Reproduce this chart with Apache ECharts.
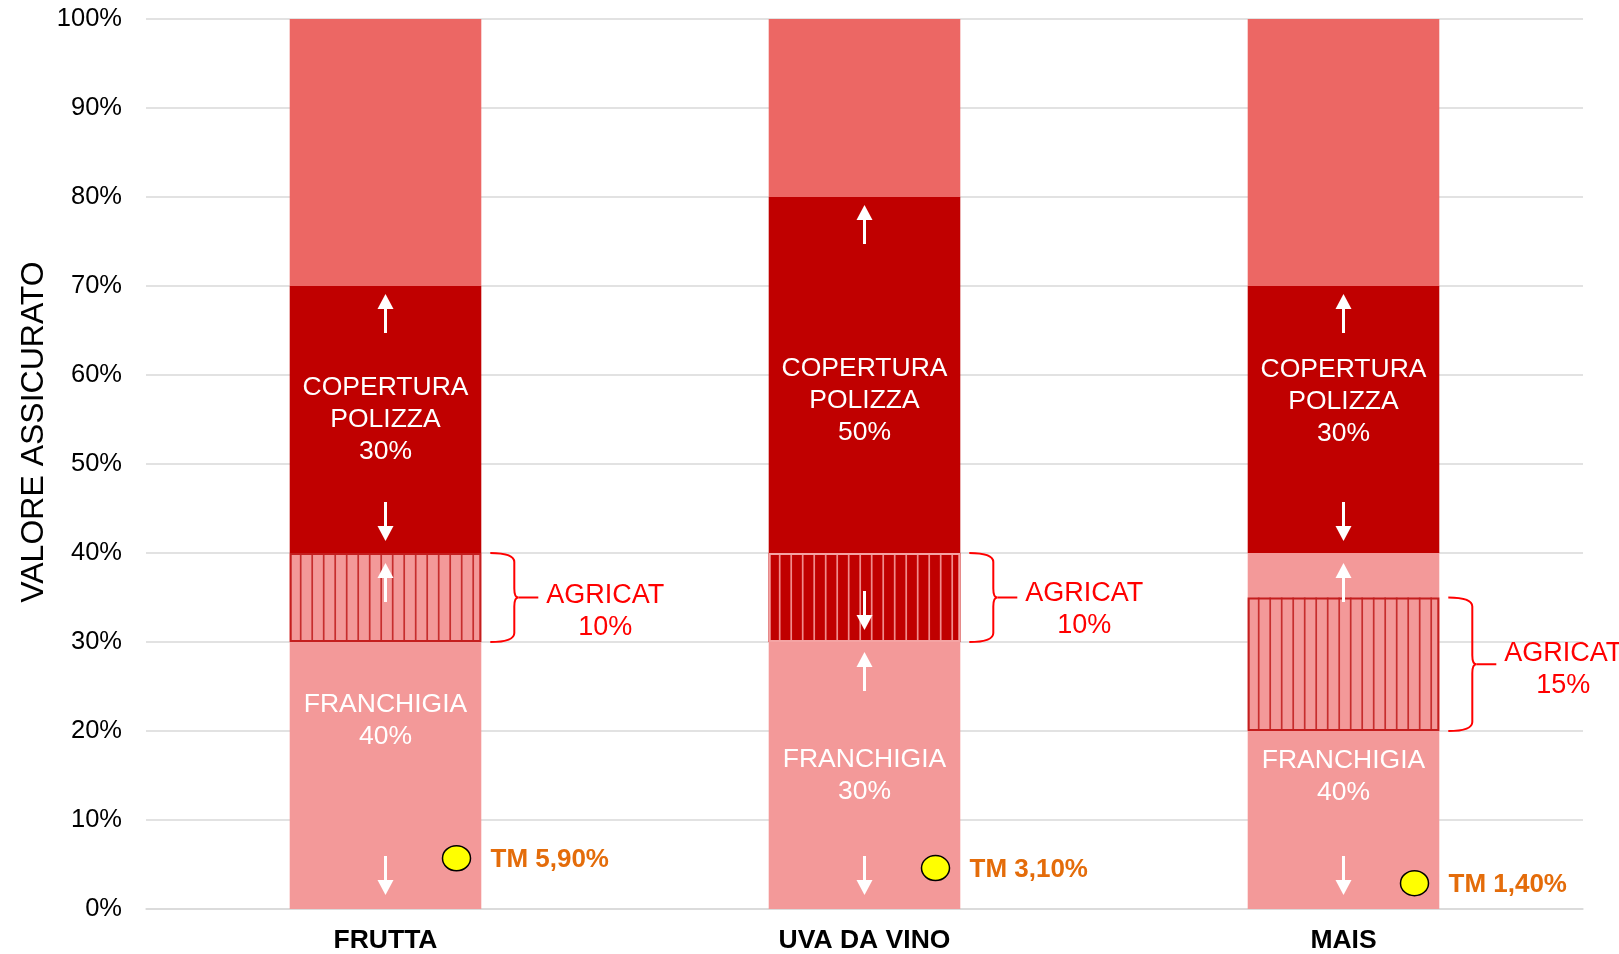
<!DOCTYPE html>
<html>
<head>
<meta charset="utf-8">
<script src="https://cdn.jsdelivr.net/npm/echarts@6/dist/echarts.min.js"></script>
<style>
html,body{margin:0;padding:0;background:#ffffff;}
#chart{width:1619px;height:954px;}
</style>
</head>
<body>
<div id="chart"></div>
<script>
// ---- data ----
const categories = ['FRUTTA', 'UVA DA VINO', 'MAIS'];
const franchigia = [40, 30, 40];
const copertura = [30, 50, 30];
const agricatFrom = [30, 30, 20];
const agricat = [10, 10, 15];
const tmText = ['5,90%', '3,10%', '1,40%'];
const tmMarker = [5.7, 4.6, 2.9];
const yTickLabels = ['0%', '10%', '20%', '30%', '40%', '50%', '60%', '70%', '80%', '90%', '100%'];

// ---- styles / layout constants ----
const FONT = 'Liberation Sans, Arial, sans-serif';
const PINK = '#F39999';
const DARK = '#C00000';
const TOP = '#EC6764';
const franLabelDy = [-10, 0, 46];
const copLabelDy = [0, -19, -18];
const agriLabelDy = [14, 12, 5];

const resto = franchigia.map((v, i) => 100 - v - copertura[i]);

const chart = echarts.init(document.getElementById('chart'), null, { renderer: 'canvas' });

function arrow(x, tip, dir) {
  // dir: -1 up (tip above), +1 down (tip below)
  const len = 39, hl = 15, hw = 8;
  const end = tip - dir * len;
  const base = tip - dir * hl;
  return [
    { type: 'line', shape: { x1: x, y1: end, x2: x, y2: base }, style: { stroke: '#ffffff', lineWidth: 3 } },
    { type: 'polygon', shape: { points: [[x, tip], [x - hw, base], [x + hw, base]] }, style: { fill: '#ffffff' } }
  ];
}

const option = {
  animation: false,
  textStyle: { fontFamily: FONT },
  grid: { left: 146, right: 36, top: 19, bottom: 43 },
  graphic: [{
    type: 'text',
    x: 34, y: 432,
    rotation: Math.PI / 2,
    style: {
      text: 'VALORE ASSICURATO',
      fontSize: 32,
      fontFamily: FONT,
      fill: '#000000',
      align: 'center',
      verticalAlign: 'middle'
    }
  }],
  xAxis: {
    type: 'category',
    data: categories,
    axisLine: { show: true, lineStyle: { color: '#D9D9D9', width: 1.5 } },
    axisTick: { show: false },
    axisLabel: { color: '#000000', fontSize: 26.5, fontWeight: 'bold', margin: 18, fontFamily: FONT }
  },
  yAxis: {
    type: 'value',
    min: 0, max: 100, interval: 10,
    axisLine: { show: false },
    axisTick: { show: false },
    splitLine: { lineStyle: { color: '#D9D9D9', width: 1.5 } },
    axisLabel: {
      color: '#000000', fontSize: 25.5, margin: 24, fontFamily: FONT,
      formatter: v => yTickLabels[Math.round(v / 10)]
    }
  },
  series: [
    {
      name: 'Franchigia', type: 'bar', stack: 'v', barWidth: '40%', z: 2,
      itemStyle: { color: PINK },
      label: {
        show: true, position: 'inside', color: '#ffffff', fontSize: 26.5, lineHeight: 32, fontFamily: FONT,
        formatter: p => 'FRANCHIGIA\n' + p.value + '%'
      },
      data: franchigia.map((v, i) => ({ value: v, label: { offset: [0, franLabelDy[i]] } }))
    },
    {
      name: 'Copertura', type: 'bar', stack: 'v', barWidth: '40%', z: 2,
      itemStyle: { color: DARK },
      label: {
        show: true, position: 'inside', color: '#ffffff', fontSize: 26.5, lineHeight: 32, fontFamily: FONT,
        formatter: p => 'COPERTURA\nPOLIZZA\n' + p.value + '%'
      },
      data: copertura.map((v, i) => ({ value: v, label: { offset: [0, copLabelDy[i]] } }))
    },
    {
      name: 'Resto', type: 'bar', stack: 'v', barWidth: '40%', z: 2,
      itemStyle: { color: TOP },
      data: resto
    },
    {
      name: 'Agricat', type: 'custom', z: 3,
      encode: { x: 0, y: [1, 2] },
      data: agricat.map((v, i) => [i, agricatFrom[i], agricatFrom[i] + v]),
      renderItem: (params, api) => {
        const i = api.value(0);
        const lo = api.value(1), hi = api.value(2);
        const b = api.coord([i, lo]);
        const t = api.coord([i, hi]);
        const bw = api.size([1, 0])[0] * 0.4;
        const x0 = b[0] - bw / 2, x1 = b[0] + bw / 2, yT = t[1], yB = b[1];
        const onCop = lo >= franchigia[i];
        const fill = onCop ? DARK : PINK;
        const lineC = onCop ? '#F08C8C' : '#C62E2E';
        const border = onCop ? '#F4A3A3' : '#C41E1E';
        const ch = [];
        ch.push({ type: 'rect', shape: { x: x0, y: yT, width: bw, height: yB - yT }, style: { fill: fill } });
        for (let x = x0 + 11; x < x1 - 3; x += 11.5) {
          ch.push({ type: 'line', shape: { x1: x, y1: yT, x2: x, y2: yB }, style: { stroke: lineC, lineWidth: 1.7 } });
        }
        ch.push({ type: 'rect', shape: { x: x0 + 1, y: yT + 1, width: bw - 2, height: yB - yT - 2 }, style: { fill: null, stroke: border, lineWidth: 2 } });
        // brace
        const bx = x1 + 9, w = 24, tip = 4, r = 9, ym = (yT + yB) / 2;
        const d = 'M' + bx + ' ' + yT +
          ' Q' + (bx + w) + ' ' + yT + ' ' + (bx + w) + ' ' + (yT + r) +
          ' L' + (bx + w) + ' ' + (ym - r) +
          ' Q' + (bx + w) + ' ' + ym + ' ' + (bx + w + tip) + ' ' + ym +
          ' Q' + (bx + w) + ' ' + ym + ' ' + (bx + w) + ' ' + (ym + r) +
          ' L' + (bx + w) + ' ' + (yB - r) +
          ' Q' + (bx + w) + ' ' + yB + ' ' + bx + ' ' + yB;
        ch.push({ type: 'path', shape: { pathData: d }, style: { fill: null, stroke: '#FF0000', lineWidth: 2 } });
        ch.push({ type: 'line', shape: { x1: bx + w + tip, y1: ym, x2: x1 + 57, y2: ym }, style: { stroke: '#FF0000', lineWidth: 2 } });
        ch.push({
          type: 'text', x: x1 + 124, y: ym + agriLabelDy[i],
          style: {
            text: 'AGRICAT\n' + (hi - lo) + '%', fill: '#FF0000', fontSize: 27, fontFamily: FONT,
            lineHeight: 32, align: 'center', verticalAlign: 'middle'
          }
        });
        return { type: 'group', children: ch };
      }
    },
    {
      name: 'Frecce', type: 'custom', z: 4,
      encode: { x: 0, y: [1, 2] },
      data: franchigia.map((v, i) => [i, v, v + copertura[i]]),
      renderItem: (params, api) => {
        const i = api.value(0);
        const fr = api.value(1), top = api.value(2);
        const x = api.coord([i, 0])[0];
        const y0 = api.coord([i, 0])[1];
        const yF = api.coord([i, fr])[1];
        const yTop = api.coord([i, top])[1];
        const ch = [].concat(
          arrow(x, yTop + 8, -1),
          arrow(x, yF - 12, 1),
          arrow(x, yF + 10, -1),
          arrow(x, y0 - 14, 1)
        );
        return { type: 'group', children: ch };
      }
    },
    {
      name: 'TM', type: 'custom', z: 5,
      encode: { x: 0, y: 1 },
      data: tmMarker.map((v, i) => [i, v]),
      renderItem: (params, api) => {
        const i = api.value(0);
        const p = api.coord([i, api.value(1)]);
        const cx = p[0] + 71, cy = p[1], rx = 14, ry = 12.5;
        const d = 'M' + (cx - rx) + ' ' + cy + ' A' + rx + ' ' + ry + ' 0 1 0 ' + (cx + rx) + ' ' + cy +
          ' A' + rx + ' ' + ry + ' 0 1 0 ' + (cx - rx) + ' ' + cy + ' Z';
        return {
          type: 'group', children: [
            { type: 'path', shape: { pathData: d }, style: { fill: '#FFFF00', stroke: '#000000', lineWidth: 1.5 } },
            {
              type: 'text', x: p[0] + 105, y: cy + 2,
              style: {
                text: 'TM ' + tmText[i], fill: '#E46C0A', fontSize: 26, fontWeight: 'bold', fontFamily: FONT,
                align: 'left', verticalAlign: 'middle'
              }
            }
          ]
        };
      }
    }
  ]
};
chart.setOption(option);
</script>
</body>
</html>
